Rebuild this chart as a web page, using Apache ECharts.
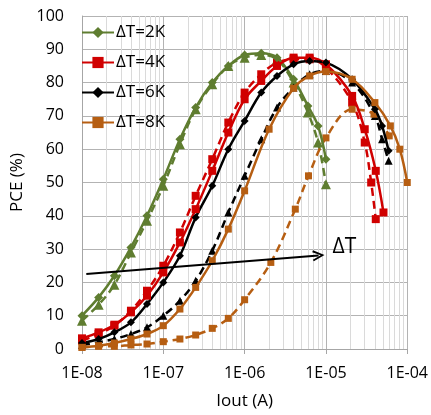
<!DOCTYPE html>
<html>
<head>
<meta charset="utf-8">
<script src="https://cdn.jsdelivr.net/npm/echarts@6/dist/echarts.min.js"></script>
<style>
  html, body { margin: 0; padding: 0; background: #fff; }
  #chart { width: 431px; height: 415px; }
</style>
</head>
<body>
<div id="chart"></div>
<script>
// measured PCE (%) vs output current (A), solid = with markers, dashed = second set
var x2K = [1e-8, 1.6e-8, 2.5e-8, 4e-8, 6.3e-8, 1e-7, 1.6e-7, 2.5e-7, 4e-7, 6.3e-7, 1e-6, 1.6e-6, 2.5e-6, 4e-6, 6e-6, 8e-6, 1e-5];
var y2K = [10, 15.5, 22, 30.5, 40, 51, 63, 72.5, 80, 85, 88.3, 88.8, 87.5, 81, 73, 67, 57];
var y2Kd = [8.5, 13.3, 19.3, 29, 38.5, 49, 61.5, 72, 79.5, 85, 87.5, 88.3, 87, 80, 71, 62, 49.5];

var x4K = [1e-8, 1.6e-8, 2.5e-8, 4e-8, 6.3e-8, 1e-7, 1.6e-7, 2.5e-7, 4e-7, 6.3e-7, 1e-6, 1.6e-6, 2.5e-6, 4e-6, 6.3e-6, 1e-5, 2.1e-5, 3e-5, 4.1e-5, 5.1e-5];
var y4K = [3.2, 5, 7.3, 11, 16, 23, 32, 42, 53.5, 65, 75, 80.5, 85, 87.5, 87.5, 85.5, 76, 66, 53.5, 41];
var x4Kd = [1e-8, 1.6e-8, 2.5e-8, 4e-8, 6.3e-8, 1e-7, 1.6e-7, 2.5e-7, 4e-7, 6.3e-7, 1e-6, 1.6e-6, 2.5e-6, 4e-6, 6.3e-6, 1e-5, 2.1e-5, 3e-5, 3.6e-5, 4.1e-5];
var y4Kd = [2.5, 4.5, 7, 11.5, 17.5, 25, 35, 46, 57, 68, 77, 82.5, 86, 87, 87, 84.5, 74, 62, 50, 39];

var x6K = [1e-8, 1.6e-8, 2.5e-8, 4e-8, 6.3e-8, 1e-7, 1.6e-7, 2.5e-7, 4e-7, 6.3e-7, 1e-6, 1.6e-6, 2.5e-6, 4e-6, 6.3e-6, 1e-5, 2.1e-5, 4e-5, 4.9e-5, 5.9e-5];
var y6K = [1.8, 3, 5, 8, 13.5, 20, 28, 39.5, 49, 60, 68.5, 77, 82, 85.5, 86.5, 86, 81, 72, 67, 59.5];
var y6Kd = [1.2, 2, 3, 4.5, 6.5, 10, 14.5, 20.5, 29.5, 41, 52, 63, 72.5, 78.5, 82.5, 83.5, 80, 70, 63, 56.5];

var x8K = [1e-8, 1.6e-8, 2.5e-8, 4e-8, 6.3e-8, 1e-7, 1.6e-7, 2.5e-7, 4e-7, 6.3e-7, 1e-6, 2e-6, 4e-6, 6.3e-6, 1e-5, 2.1e-5, 4e-5, 6.2e-5, 8.1e-5, 1e-4];
var y8K = [0.5, 1, 1.8, 3, 4.5, 7, 12, 18.5, 26.5, 36, 47.5, 66, 78.3, 82, 83.3, 81, 74, 67, 60, 50];
var x8Kd = [1e-8, 1.6e-8, 2.5e-8, 4e-8, 6.3e-8, 1e-7, 1.6e-7, 2.5e-7, 4e-7, 6.3e-7, 1e-6, 2.1e-6, 4.2e-6, 6.1e-6, 1e-5, 2.1e-5, 3.9e-5, 6e-5];
var y8Kd = [0.5, 0.8, 0.8, 1.2, 1.5, 2.2, 3, 4.2, 6.2, 9.2, 14.8, 26, 42, 52, 63.4, 72, 70.5, 64];

var arrowFrom = [1.13e-8, 22.5];
var arrowTo = [8.1e-6, 28.1];

var yMin = 0, yMax = 100;
var FONT = 'Open Sans';
var chart = echarts.init(document.getElementById('chart'));

function pairs(xs, ys) {
  return xs.map(function (x, i) { return [x, ys[i]]; });
}

function solid(name, color, symbol, size, xs, ys) {
  return {
    name: name, type: 'line', smooth: 0.35, data: pairs(xs, ys),
    symbol: symbol, symbolSize: size, z: 4,
    lineStyle: { color: color, width: 2.5 },
    itemStyle: { color: color }
  };
}

function dashed(name, color, symbol, size, xs, ys) {
  return {
    name: name, type: 'line', smooth: 0.35, data: pairs(xs, ys),
    symbol: symbol, symbolSize: size, z: 3,
    lineStyle: { color: color, width: 2.5, type: [8, 5] },
    itemStyle: { color: color }
  };
}

// minor log grid lines at 2..9 of each decade
var minorLines = [];
for (var e = -8; e < -4; e++) {
  for (var m = 2; m <= 9; m++) {
    var v = m * Math.pow(10, e);
    minorLines.push([{ coord: [v, yMin] }, { coord: [v, yMax] }]);
  }
}

var greenC = '#5f7d30', redC = '#d00000', blackC = '#000000', brownC = '#b65e12';

chart.setOption({
  animation: false,
  textStyle: { fontFamily: FONT },
  grid: { left: 82, right: 22, top: 16, bottom: 65 },
  legend: {
    data: ['ΔT=2K', 'ΔT=4K', 'ΔT=6K', 'ΔT=8K'],
    orient: 'vertical', left: 76, top: 19, z: 6,
    itemWidth: 32, itemHeight: 14, itemGap: 13,
    textStyle: { fontFamily: FONT, fontSize: 17, color: '#000', padding: [0, 0, 0, -3] }
  },
  xAxis: {
    type: 'log', logBase: 10, min: 1e-8, max: 1e-4,
    name: 'Iout (A)', nameLocation: 'middle', nameGap: 44,
    nameTextStyle: { fontFamily: FONT, fontSize: 17, color: '#000' },
    axisLine: { lineStyle: { color: '#a6a6a6' } },
    axisTick: { show: true, length: 5, lineStyle: { color: '#a6a6a6' } },
    axisLabel: {
      fontFamily: FONT, fontSize: 16, color: '#000', margin: 16,
      formatter: function (v) {
        var p = Math.round(Math.log10(v));
        var a = Math.abs(p);
        return '1E' + (p < 0 ? '-' : '+') + (a < 10 ? '0' : '') + a;
      }
    },
    splitLine: { show: true, lineStyle: { color: '#b3b3b3', width: 1 } }
  },
  yAxis: {
    type: 'value', min: yMin, max: yMax, interval: 10,
    name: 'PCE (%)', nameLocation: 'middle', nameGap: 54, nameRotate: 90,
    nameTextStyle: { fontFamily: FONT, fontSize: 17, color: '#000' },
    axisLine: { show: true, lineStyle: { color: '#a6a6a6' } },
    axisTick: { show: false },
    axisLabel: { fontFamily: FONT, fontSize: 16, color: '#000', margin: 18 },
    splitLine: { show: true, lineStyle: { color: '#b3b3b3', width: 1 } }
  },
  series: [
    {
      // invisible carrier for the minor grid lines
      name: 'minor', type: 'line', data: pairs(x2K, y2K), z: 1, silent: true,
      showSymbol: false, lineStyle: { opacity: 0 }, itemStyle: { opacity: 0 },
      markLine: {
        z: 1, silent: true, symbol: 'none', animation: false,
        label: { show: false },
        lineStyle: { color: '#dadada', width: 1, type: 'solid', opacity: 1 },
        emphasis: { disabled: true },
        data: minorLines
      }
    },
    dashed('ΔT=2K b', greenC, 'triangle', 10, x2K, y2Kd),
    dashed('ΔT=4K b', redC, 'rect', 8, x4Kd, y4Kd),
    dashed('ΔT=6K b', blackC, 'triangle', 8, x6K, y6Kd),
    dashed('ΔT=8K b', brownC, 'rect', 7, x8Kd, y8Kd),
    solid('ΔT=2K', greenC, 'diamond', 9, x2K, y2K),
    solid('ΔT=4K', redC, 'rect', 8, x4K, y4K),
    solid('ΔT=6K', blackC, 'diamond', 8, x6K, y6K),
    {
      name: 'ΔT=8K', type: 'line', smooth: 0.35, data: pairs(x8K, y8K),
      symbol: 'rect', symbolSize: 7, z: 4,
      lineStyle: { color: brownC, width: 2.5 },
      itemStyle: { color: brownC },
      markLine: {
        silent: true, animation: false,
        symbol: ['none', 'path://M5,0 L10,10 L8.4,10.8 L5,3.4 L1.6,10.8 L0,10 Z'],
        symbolSize: [11, 12],
        lineStyle: { color: '#000', width: 2, type: 'solid' },
        label: {
          show: true, position: 'end', formatter: 'ΔT', distance: 8,
          fontFamily: FONT, fontSize: 21, color: '#000', offset: [6, -8]
        },
        data: [[{ coord: arrowFrom }, { coord: arrowTo }]]
      }
    }
  ]
});
</script>
</body>
</html>
